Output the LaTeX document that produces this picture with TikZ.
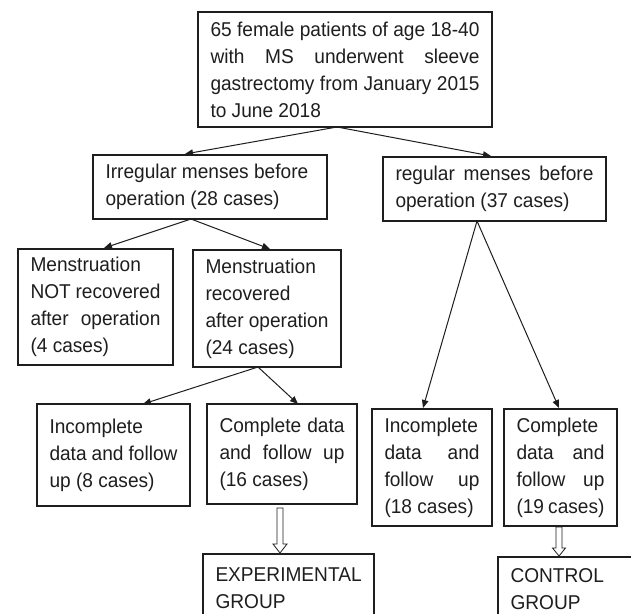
\documentclass[tikz,border=0pt]{standalone}
\usepackage{fontspec}
\setmainfont{Liberation Sans}[FakeStretch=0.955]
\usetikzlibrary{arrows.meta,calc}
\definecolor{ink}{RGB}{30,30,30}
\setlength\parindent{0pt}
\tolerance=10000 \hbadness=10000 \hfuzz=30pt
\hyphenpenalty=10000 \exhyphenpenalty=10000
\begin{document}
\begin{tikzpicture}[x=1pt,y=-1pt,
  box/.style={draw=ink, line width=1.2pt, text=ink, anchor=north west, outer sep=0pt,
    inner xsep=12.5pt, inner ysep=4pt, align=justify,
    font=\fontsize{20}{27}\selectfont},
  conn/.style={draw=ink, line width=1pt, -{Triangle[length=8pt,width=6.5pt]}},
  hollow/.style={draw=ink, line width=0.8pt, fill=white}]
\useasboundingbox[fill=white] (0,0) rectangle (631,613);

\node[box, text width=269pt, minimum height=115pt] (top) at (198,12)
  {65 female patients of age 18-40\linebreak with MS underwent sleeve\linebreak gastrectomy from January 2015\linebreak to June 2018};
\node[box, text width=209pt, minimum height=64pt] (irr) at (93,155)
  {Irregular menses before\newline operation (28 cases)};
\node[box, text width=198pt, minimum height=64pt] (reg) at (383,157)
  {regular menses before\linebreak operation (37 cases)};
\node[box, text width=130pt, minimum height=116pt] (mnot) at (18,249)
  {Menstruation\newline NOT recovered\linebreak after operation\linebreak (4 cases)};
\node[box, text width=123pt, minimum height=117pt] (mrec) at (193,250)
  {Menstruation\newline recovered\newline after operation\newline (24 cases)};
\node[box, text width=128pt, minimum height=102pt] (inc8) at (37,404)
  {Incomplete\newline data and follow\newline up (8 cases)};
\node[box, text width=125pt, minimum height=100pt] (c16) at (207,404)
  {Complete data\linebreak and follow up\linebreak (16 cases)};
\node[box, text width=95pt, minimum height=117pt] (inc18) at (372,409)
  {Incomplete\linebreak data and\linebreak follow up\linebreak (18 cases)};
\node[box, text width=88pt, minimum height=117pt] (c19) at (504,409)
  {Complete\newline data and\linebreak follow up\linebreak (19 cases)};
\node[box, text width=146pt, minimum height=69pt] (exp) at (203,554)
  {EXPERIMENTAL\newline GROUP};
\node[box, text width=125pt, minimum height=65pt] (ctrl) at (498,557)
  {CONTROL\newline GROUP};

\draw[conn] ([xshift=-8pt]top.south) -- ([xshift=-25pt,yshift=1pt]irr.north);
\draw[conn] ([xshift=-8pt]top.south) -- ([xshift=-3.5pt,yshift=1pt]reg.north);
\draw[conn] ([xshift=-19pt]irr.south) -- ([xshift=8.5pt,yshift=1pt]mnot.north);
\draw[conn] ([xshift=-19pt]irr.south) -- ([xshift=3pt,yshift=1pt]mrec.north);
\draw[conn] ([xshift=-9pt]mrec.south) -- ([xshift=29.5pt]inc8.north);
\draw[conn] ([xshift=-9pt]mrec.south) -- ([xshift=16pt]c16.north);
\draw[conn] ([xshift=-17.5pt]reg.south) -- ([xshift=-9pt,yshift=1pt]inc18.north);
\draw[conn] ([xshift=-17.5pt]reg.south) -- ([xshift=-1.5pt,yshift=1pt]c19.north);

\path ([xshift=-2pt,yshift=-4pt]c16.south) coordinate (a1)
      (a1 |- exp.north) coordinate (b1);
\draw[hollow] ([xshift=-3pt]a1) -- ([xshift=-3pt,yshift=10pt]b1) -- ([xshift=-7pt,yshift=10pt]b1)
  -- ([yshift=1pt]b1) -- ([xshift=7pt,yshift=10pt]b1) -- ([xshift=3pt,yshift=10pt]b1)
  -- ([xshift=3pt]a1) -- cycle;
\path ([xshift=-1.5pt,yshift=-1pt]c19.south) coordinate (a2)
      (a2 |- ctrl.north) coordinate (b2);
\draw[hollow] ([xshift=-3pt]a2) -- ([xshift=-3pt,yshift=9pt]b2) -- ([xshift=-6.5pt,yshift=9pt]b2)
  -- ([yshift=1pt]b2) -- ([xshift=6.5pt,yshift=9pt]b2) -- ([xshift=3pt,yshift=9pt]b2)
  -- ([xshift=3pt]a2) -- cycle;
\end{tikzpicture}
\end{document}
